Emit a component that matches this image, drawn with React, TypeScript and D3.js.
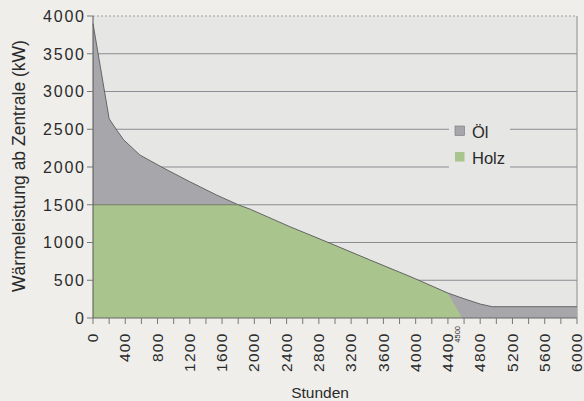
import React from "react";
import * as d3 from "d3";

const totalHours = [0, 200, 300, 380, 580, 850, 1200, 1530, 1800, 1950, 2440, 2940, 3430, 3930, 4060, 4400, 4600, 4800, 4950, 6000];
const totalKW = [3900, 2640, 2480, 2360, 2160, 2000, 1805, 1630, 1500, 1440, 1210, 990, 770, 550, 490, 330, 255, 185, 150, 150];

const holzHours = [0, 1800, 1950, 2440, 2940, 3430, 3930, 4060, 4400, 4450, 4510, 4575];
const holzKW = [1500, 1500, 1440, 1210, 990, 770, 550, 490, 330, 235, 125, 0];

const yTicks = [0, 500, 1000, 1500, 2000, 2500, 3000, 3500, 4000];
const xLabelTicks = [0, 400, 800, 1200, 1600, 2000, 2400, 2800, 3200, 3600, 4000, 4400, 4800, 5200, 5600, 6000];
const xMinorTicks = d3.range(0, 6001, 200);

const legendItems = ["Öl", "Holz"];

const W = 584, H = 401;
const left = 93, right = 577, top = 16, bottom = 318;

export default function App() {
  const x = d3.scaleLinear().domain([0, 6000]).range([left, right]);
  const y = d3.scaleLinear().domain([0, 4000]).range([bottom, top]);

  const totalPts: [number, number][] = totalHours.map((h, i) => [h, totalKW[i]]);
  const holzPts: [number, number][] = holzHours.map((h, i) => [h, holzKW[i]]);

  const area = d3.area<[number, number]>().x(d => x(d[0])).y0(y(0)).y1(d => y(d[1]));
  const line = d3.line<[number, number]>().x(d => x(d[0])).y(d => y(d[1]));

  const font = "'Liberation Sans', Arial, sans-serif";
  const txt = "#2a2a2a";
  const gridCol = "#8d8c92";
  const oil = "#a7a6aa";
  const wood = "#a9c48c";
  const ls = 1.8;

  return (
    <svg width={W} height={H} style={{ position: "absolute", left: 0, top: 0, display: "block" }}>
      <rect x={0} y={0} width={W} height={H} fill="#efeeea" />
      <rect x={left} y={top} width={right - left} height={bottom - top} fill="#e6e6e4" />
      {yTicks.filter(t => t > 0 && t < 4000).map(t => (
        <line key={t} x1={left} x2={right} y1={y(t)} y2={y(t)} stroke={gridCol} strokeWidth={1} />
      ))}
      <line x1={left} x2={right} y1={y(4000)} y2={y(4000)} stroke={gridCol} strokeWidth={0.8} strokeDasharray="2,2" />
      <line x1={right} x2={right} y1={top} y2={bottom} stroke={gridCol} strokeWidth={1} />
      <path d={area(totalPts) || ""} fill={oil} />
      <path d={area(holzPts) || ""} fill={wood} />
      <path d={line(totalPts) || ""} fill="none" stroke="#5a5a5e" strokeWidth={0.9} />
      <line x1={x(0)} x2={x(1800)} y1={y(1500)} y2={y(1500)} stroke="#6e7a66" strokeWidth={0.9} />
      {/* legend */}
      <rect x={449} y={119} width={61} height={52} fill="#e6e6e4" />
      {legendItems.map((name, i) => (
        <g key={name} transform={`translate(455, ${126 + i * 26})`}>
          <rect x={0} y={0} width={9.5} height={9.5} fill={i === 0 ? oil : wood} stroke={i === 0 ? "#77767a" : "none"} strokeWidth={0.6} />
          <text x={17} y={11.5} fontFamily={font} fontSize={16.5} fill={txt}>{name}</text>
        </g>
      ))}
      {/* axes */}
      <line x1={left} x2={left} y1={top} y2={bottom} stroke="#555" strokeWidth={1} />
      <line x1={left} x2={right} y1={bottom} y2={bottom} stroke="#666" strokeWidth={1} />
      {yTicks.map(t => (
        <g key={t}>
          <line x1={left - 6} x2={left} y1={y(t)} y2={y(t)} stroke="#777" strokeWidth={1} />
          <text x={left - 9 + ls} y={y(t)} dy="0.36em" textAnchor="end" fontFamily={font} fontSize={16} letterSpacing={ls} fill={txt}>{t}</text>
        </g>
      ))}
      {xMinorTicks.map(t => (
        <line key={t} x1={x(t)} x2={x(t)} y1={bottom} y2={bottom + 6} stroke="#777" strokeWidth={1} />
      ))}
      {xLabelTicks.map(t => (
        <text key={t} transform={`translate(${x(t)}, ${bottom + 16 - ls}) rotate(-90)`} dy="0.33em" textAnchor="end" fontFamily={font} fontSize={15.5} letterSpacing={ls * 0.75} fill={txt}>{t}</text>
      ))}
      <text transform={`translate(${x(4500) + 1}, ${bottom + 8}) rotate(-90)`} dy="0.35em" textAnchor="end" fontFamily={font} fontSize={7.5} fill={txt}>4500</text>
      <text x={320} y={398} textAnchor="middle" fontFamily={font} fontSize={15.5} fill={txt}>Stunden</text>
      <text transform={`translate(25, 166) rotate(-90)`} textAnchor="middle" fontFamily={font} fontSize={17.5} fill={txt}>Wärmeleistung ab Zentrale (kW)</text>
    </svg>
  );
}
